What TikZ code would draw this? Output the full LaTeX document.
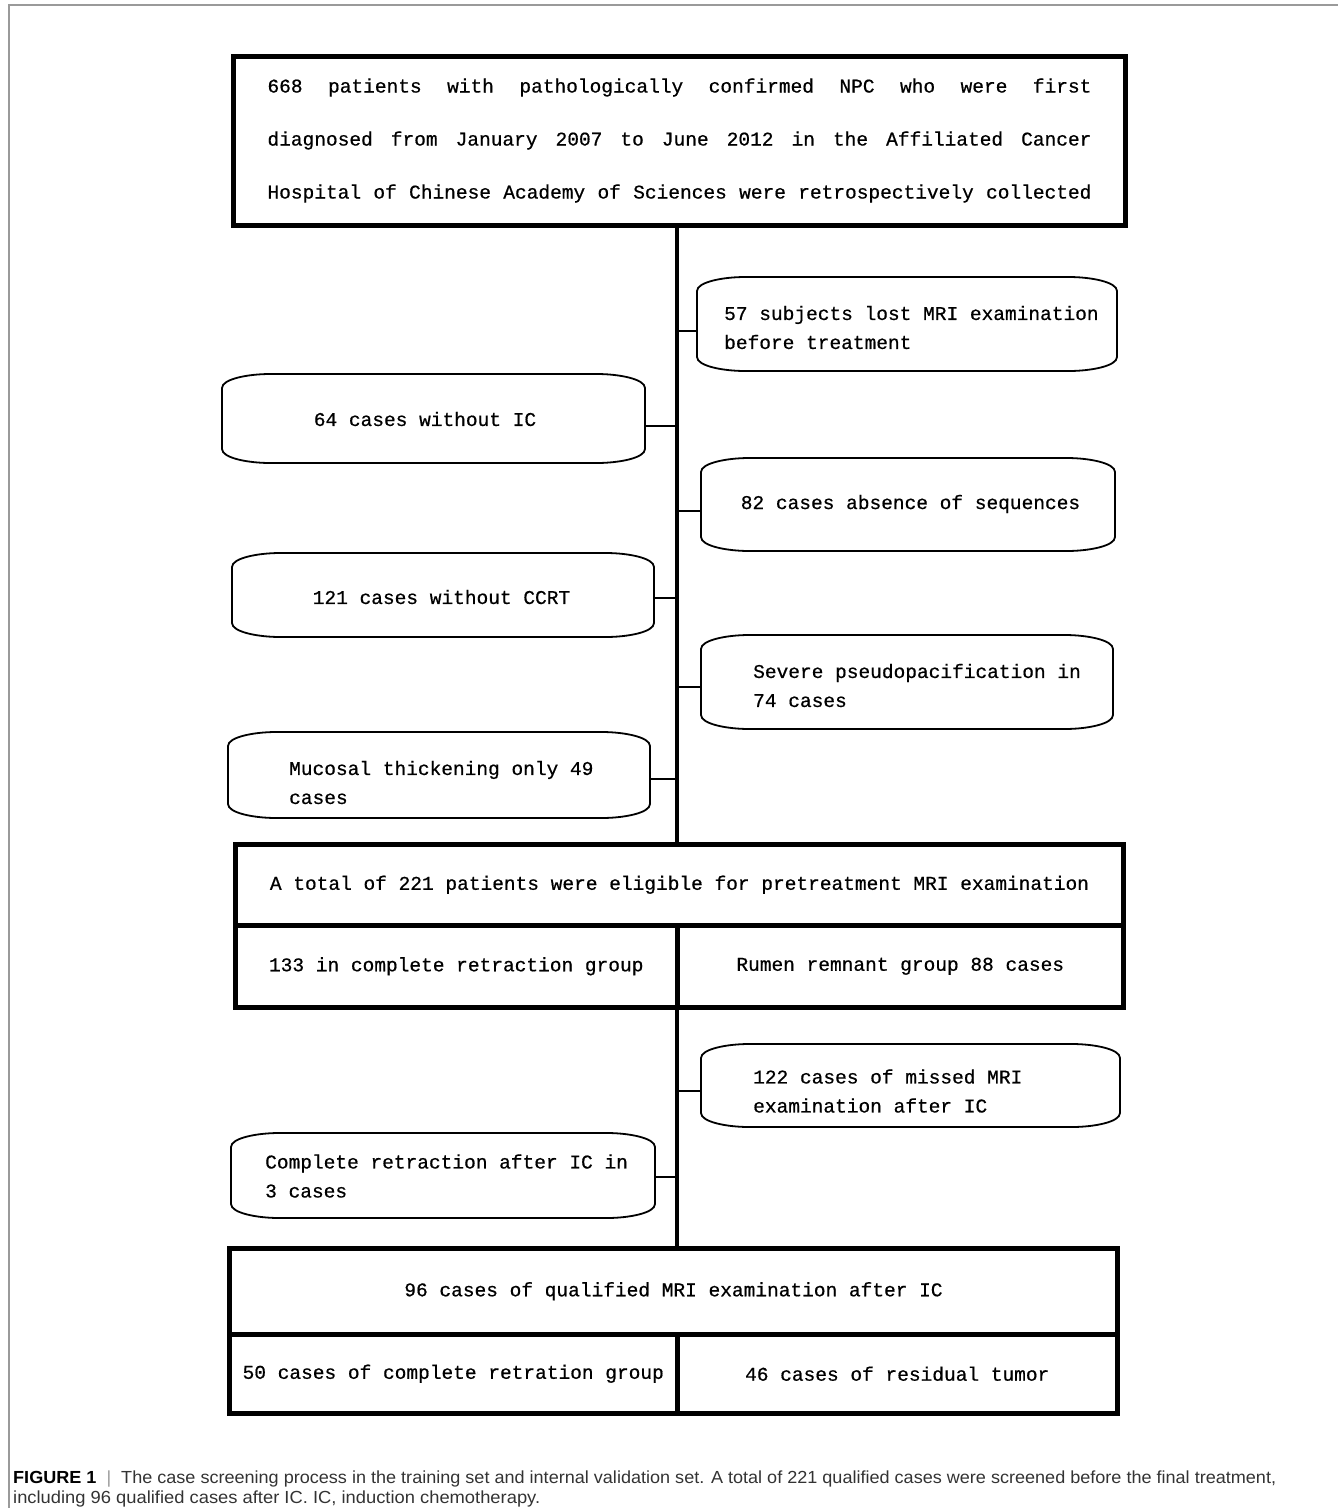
\documentclass[tikz,border=0pt]{standalone}
\usepackage{fontspec}
\usepackage{graphicx}
\setmonofont[FakeBold=0.6]{Liberation Mono}
\newfontfamily\capfont{Liberation Sans}
\usetikzlibrary{calc}
\definecolor{framegray}{HTML}{9A9A9A}
\definecolor{captext}{HTML}{333333}
\newcommand\bevshape[1]{%
  \draw[sideline] ($(#1.north west)+(48,0)$) -- ($(#1.north east)+(-48,0)$)
    .. controls +(22,0) and +(0,-9) .. ($(#1.north east)+(0,14)$)
    -- ($(#1.south east)+(0,-14)$)
    .. controls +(0,9) and +(22,0) .. ($(#1.south east)+(-48,0)$)
    -- ($(#1.south west)+(48,0)$)
    .. controls +(-22,0) and +(0,9) .. ($(#1.south west)+(0,-14)$)
    -- ($(#1.north west)+(0,14)$)
    .. controls +(0,-9) and +(-22,0) .. ($(#1.north west)+(48,0)$) -- cycle;}
\newcommand\sidebox[5]{%
  \node[boxholder, minimum width=#4pt, minimum height=#5pt] (#1) at (#2,#3) {};
  \bevshape{#1}}
\begin{document}
\begin{tikzpicture}[x=1pt,y=-1pt,
  mono/.style={font=\fontsize{19.5}{29}\selectfont\ttfamily},
  bigbox/.style={draw, line width=5pt, inner sep=0pt, mono},
  boxholder/.style={draw=none, inner sep=0pt, outer sep=0pt},
  sideline/.style={line width=1.8pt},
  sidetxt/.style={mono, inner sep=0pt, align=left},
  spine/.style={line width=4.5pt},
  conn/.style={line width=2pt}]
\useasboundingbox (0,0) rectangle (1338,1508);
\draw[framegray, line width=1.2pt] (9,1508) -- (9,5) -- (1338,5);
\coordinate (sp) at (677,0);

% top box
\node[bigbox, align=left, font=\fontsize{19.5}{53}\selectfont\ttfamily,
      minimum width=892pt, minimum height=169pt] (top) at (679.5,140.5)
  {\hbox to 824pt{668\hfill patients\hfill with\hfill pathologically\hfill confirmed\hfill NPC\hfill who\hfill were\hfill first}\\
   \hbox to 824pt{diagnosed\hfill from\hfill January\hfill 2007\hfill to\hfill June\hfill 2012\hfill in\hfill the\hfill Affiliated\hfill Cancer}\\
   \hbox to 824pt{Hospital\hfill of\hfill Chinese\hfill Academy\hfill of\hfill Sciences\hfill were\hfill retrospectively\hfill collected}};

% side boxes
\sidebox{b57}{907}{324}{420}{94}
\sidebox{b64}{433.5}{418.5}{423}{89}
\sidebox{b82}{908}{504.5}{414}{93}
\sidebox{b121}{443}{595}{422}{84}
\sidebox{bsev}{907}{682}{412}{94}
\sidebox{bmuc}{439}{775}{422}{86}
\sidebox{b122}{910.5}{1085.5}{419}{83}
\sidebox{bcom}{443}{1175.5}{424}{85}

\node[sidetxt, anchor=west] (t57) at (724,327.5) {57 subjects lost MRI examination\\before treatment};
\node[sidetxt] (t64) at (425,419) {64 cases without IC};
\node[sidetxt] (t82) at (910.5,504) {82 cases absence of sequences};
\node[sidetxt] (t121) at (441.5,597) {121 cases without CCRT};
\node[sidetxt, anchor=west] (tsev) at (753,685.5) {Severe pseudopacification in\\74 cases};
\node[sidetxt, anchor=west] (tmuc) at (289,782.5) {Mucosal thickening only 49\\cases};
\node[sidetxt, anchor=west] (t122) at (753,1091) {122 cases of missed MRI\\examination after IC};
\node[sidetxt, anchor=west] (tcom) at (265,1176) {Complete retraction after IC in\\3 cases};

% connector attachment points
\coordinate (c57) at ($(b57.west)+(0,7)$);
\coordinate (c64) at ($(b64.east)+(0,7.5)$);
\coordinate (c82) at ($(b82.west)+(0,6.5)$);
\coordinate (c121) at ($(b121.east)+(0,3)$);
\coordinate (csev) at ($(bsev.west)+(0,5)$);
\coordinate (cmuc) at ($(bmuc.east)+(0,4)$);
\coordinate (c122) at ($(b122.west)+(0,5.5)$);
\coordinate (ccom) at ($(bcom.east)+(0,1.5)$);
\foreach \c in {c57,c64,c82,c121,csev,cmuc,c122,ccom}
  \draw[conn] (\c) -- (\c -| sp);

% 221 box
\node[bigbox, minimum width=888pt, minimum height=80.5pt] (tot) at (679.5,884.75)
  {A total of 221 patients were eligible for pretreatment MRI examination};
\node[bigbox, minimum width=441.5pt, minimum height=82.5pt] (l221) at (456.25,966.25)
  {133 in complete retraction group};
\node[bigbox, minimum width=446.5pt, minimum height=82.5pt] (r221) at (900.25,966.25)
  {Rumen remnant group 88 cases};

% 96 box
\node[bigbox, minimum width=888pt, minimum height=85.5pt] (q96) at (673.5,1291.25)
  {96 cases of qualified MRI examination after IC};
\node[bigbox, minimum width=447.5pt, minimum height=79.5pt] (l96) at (453.25,1373.75)
  {50 cases of complete retration group};
\node[bigbox, minimum width=440.5pt, minimum height=79.5pt] (r96) at (897.25,1373.75)
  {46 cases of residual tumor};

% spine
\draw[spine] (top.south -| sp) -- (tot.north -| sp);
\draw[spine] (l221.south -| sp) -- (q96.north -| sp);

% caption
\node[anchor=base west, inner sep=0pt, font=\capfont\fontsize{17.5}{20}\selectfont, text=captext] (cap1) at (13,1483)
  {\resizebox{1263pt}{\height}{{\color{black}\bfseries FIGURE 1}\ \ {\color{framegray}|}\ \ The case screening process in the training set and internal validation set. A total of 221 qualified cases were screened before the final treatment,}};
\node[anchor=base west, inner sep=0pt, font=\capfont\fontsize{17.5}{20}\selectfont, text=captext] (cap2) at (13,1503)
  {\resizebox{527pt}{\height}{including 96 qualified cases after IC. IC, induction chemotherapy.}};
\end{tikzpicture}
\end{document}
